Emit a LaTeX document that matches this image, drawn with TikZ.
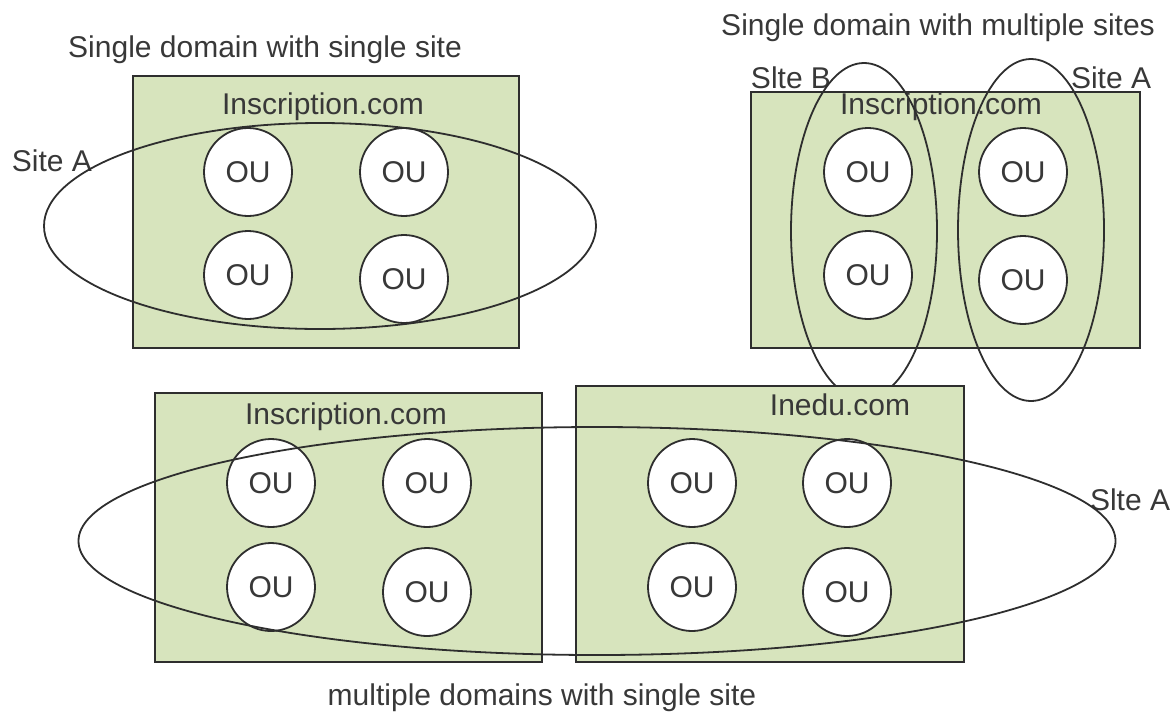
\documentclass[tikz,border=0pt]{standalone}
\usepackage{fontspec}
\setmainfont{Liberation Sans}
\usetikzlibrary{positioning, shapes.geometric}
\usepackage{xcolor}
\definecolor{domgreen}{HTML}{D7E4BD}
\definecolor{edgegray}{HTML}{2E2E2E}
\definecolor{textgray}{HTML}{383838}

\begin{document}
\begin{tikzpicture}[
    x=0.5pt, y=-0.5pt,
    every node/.style={font=\fontsize{15}{18}\selectfont, text=textgray},
    domainbox/.style={
        draw=edgegray,
        fill=domgreen,
        line width=1pt,
        inner sep=0pt,
    },
    oucircle/.style={
        circle,
        draw=edgegray,
        fill=white,
        line width=0.9pt,
        minimum size=44pt,
        inner sep=0pt,
    },
    siteloop/.style={
        ellipse,
        draw=edgegray,
        line width=0.9pt,
        inner sep=0pt,
    },
]
\useasboundingbox (0,0) rectangle (1176,713);

% Single domain with single site
\node (ssTitle) at (265,50) {Single domain with single site};
\node[domainbox, minimum width=193pt, minimum height=136pt] (ssBox) at (326,212) {};
\node (ssDomain) at (323,107) {Inscription.com};
\node[oucircle] (ssOu1) at (248,172) {OU};
\node[oucircle] (ssOu2) at (404,172) {OU};
\node[oucircle] (ssOu3) at (248,275) {OU};
\node[oucircle] (ssOu4) at (404,279) {OU};
\node (ssSiteLbl) at (52,161) {Site A};
\node[siteloop, minimum width=276pt, minimum height=103pt] (ssSite) at (320,226) {};

% Single domain with multiple sites
\node (msTitle) at (938,28) {Single domain with multiple sites};
\node[domainbox, minimum width=194.5pt, minimum height=128pt] (msBox) at (945.5,220) {};
\node (msDomain) at (941,107) {Inscription.com};
\node[oucircle] (msOu1) at (868,172) {OU};
\node[oucircle] (msOu2) at (868,275) {OU};
\node[oucircle] (msOu3) at (1023,172) {OU};
\node[oucircle] (msOu4) at (1023,280) {OU};
\node (msSiteBLbl) at (791,78) {Slte B};
\node (msSiteALbl) at (1111,78) {Site A};
\node[siteloop, minimum width=73pt, minimum height=168pt] (msSiteB) at (864,231) {};
\node[siteloop, minimum width=73pt, minimum height=171pt] (msSiteA) at (1031,230) {};

% Multiple domains with single site
\node[domainbox, minimum width=193.5pt, minimum height=134.5pt] (mdBoxL) at (348.5,527.5) {};
\node[domainbox, minimum width=194pt, minimum height=138pt] (mdBoxR) at (770,524) {};
\node (mdDomainL) at (346,417) {Inscription.com};
\node (mdDomainR) at (840,405) {Inedu.com};
\node[oucircle] (mdOu1) at (271,483) {OU};
\node[oucircle] (mdOu2) at (427,483) {OU};
\node[oucircle] (mdOu3) at (271,587) {OU};
\node[oucircle] (mdOu4) at (427,592) {OU};
\node[oucircle] (mdOu5) at (692,483) {OU};
\node[oucircle] (mdOu6) at (847,483) {OU};
\node[oucircle] (mdOu7) at (692,587) {OU};
\node[oucircle] (mdOu8) at (847,592) {OU};
\node (mdSiteLbl) at (1130,500) {Slte A};
\node[siteloop, minimum width=518.5pt, minimum height=114pt] (mdSite) at (597,541) {};
\node (mdTitle) at (542,698) {multiple domains with single site};

\end{tikzpicture}
\end{document}
